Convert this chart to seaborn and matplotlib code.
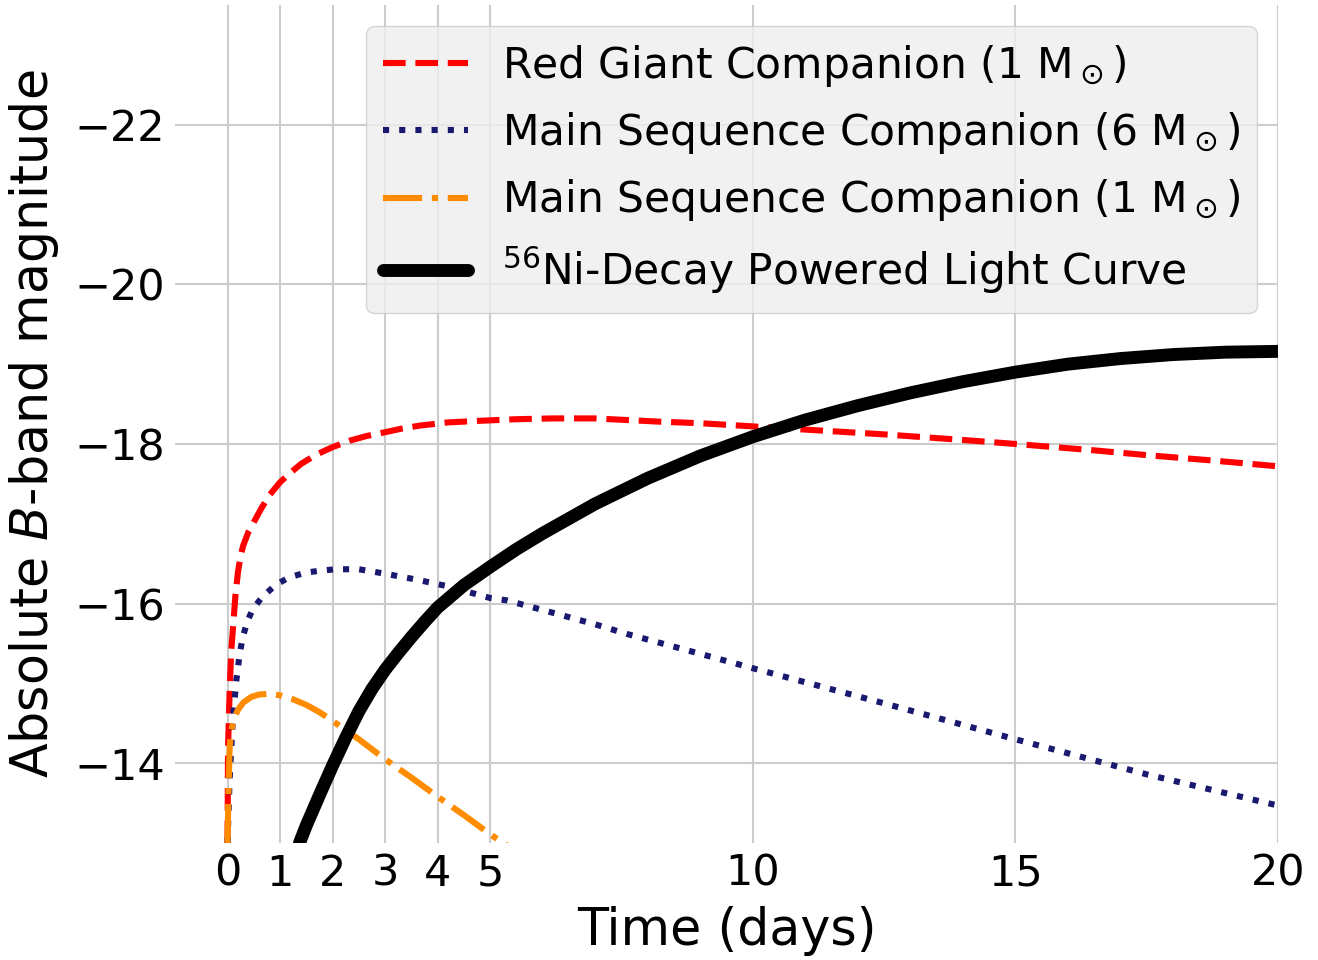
import matplotlib
matplotlib.use("Agg")
import matplotlib.pyplot as plt
import seaborn as sns
import pandas as pd

# ---- data ----
rg_t = [0.0, 0.01, 0.04, 0.07, 0.1, 0.15, 0.2, 0.25, 0.3, 0.4, 0.5, 0.65, 0.8, 1.0, 1.2, 1.4, 1.7,
        2.0, 2.32, 2.65, 2.95, 3.3, 3.66, 4.2, 4.8, 5.5, 6.2, 7.0, 8.2, 9.0, 10.0, 11.0,
        12.5, 14.0, 15.0, 16.5, 17.5, 18.8, 20.0]
rg_m = [-13.0, -14.2, -14.9, -15.4, -15.66, -16.1, -16.4, -16.6, -16.73, -16.9, -17.02, -17.2,
        -17.36, -17.52, -17.64, -17.75, -17.87, -17.96, -18.04, -18.1, -18.14, -18.19, -18.23,
        -18.27, -18.29, -18.31, -18.32, -18.32, -18.28, -18.26, -18.22, -18.18, -18.12, -18.05,
        -18.0, -17.92, -17.86, -17.79, -17.72]

ms6_t = [0.0, 0.04, 0.1, 0.17, 0.23, 0.29, 0.38, 0.48, 0.67, 0.93, 1.18, 1.5, 1.75, 2.05,
         2.5, 2.95, 3.6, 4.17, 5.0, 5.32, 5.94, 7.0, 7.6, 8.5, 10.0, 12.5, 15.0, 17.5, 19.8, 20.0]
ms6_m = [-13.0, -13.8, -14.54, -15.05, -15.36, -15.58, -15.78, -15.93, -16.09, -16.24, -16.33,
         -16.39, -16.41, -16.43, -16.43, -16.38, -16.3, -16.22, -16.07, -16.04, -15.93, -15.74,
         -15.62, -15.46, -15.19, -14.75, -14.3, -13.86, -13.5, -13.47]

ms1_t = [0.0, 0.02, 0.04, 0.07, 0.1, 0.15, 0.2, 0.3, 0.45, 0.6, 0.8, 1.0, 1.25, 1.5, 1.75,
         2.0, 2.5, 3.0, 3.5, 4.0, 4.5, 5.0, 5.43]
ms1_m = [-13.0, -13.7, -14.2, -14.4, -14.5, -14.6, -14.67, -14.76, -14.83, -14.86, -14.87,
         -14.85, -14.8, -14.73, -14.64, -14.53, -14.3, -14.05, -13.82, -13.58, -13.35, -13.11,
         -12.92]

ni_t = [1.37, 1.5, 1.75, 2.0, 2.25, 2.5, 2.75, 3.0, 3.25, 3.5, 3.75, 4.0, 4.5, 5.0, 5.5, 6.0,
        7.0, 8.0, 9.0, 10.0, 11.0, 12.0, 13.0, 14.0, 15.0, 16.0, 17.0, 18.0, 19.0, 20.0]
ni_m = [-13.0, -13.22, -13.6, -13.97, -14.32, -14.65, -14.93, -15.17, -15.38, -15.58, -15.77,
        -15.95, -16.23, -16.46, -16.68, -16.88, -17.25, -17.57, -17.85, -18.09, -18.3, -18.48,
        -18.64, -18.78, -18.9, -19.0, -19.07, -19.12, -19.15, -19.16]

labels = ["Red Giant Companion (1 M$_\\odot$)",
          "Main Sequence Companion (6 M$_\\odot$)",
          "Main Sequence Companion (1 M$_\\odot$)",
          "$^{56}$Ni-Decay Powered Light Curve"]
xticks = [0, 1, 2, 3, 4, 5, 10, 15, 20]
yticks = [-22, -20, -18, -16, -14]

# ---- style ----
sns.set_style("whitegrid", {"grid.color": "#cccccc", "text.color": "black",
                            "axes.labelcolor": "black", "xtick.color": "black",
                            "ytick.color": "black"})
plt.rcParams['font.family'] = ['DejaVu Sans']
plt.rcParams['mathtext.fontset'] = 'dejavusans'
plt.rcParams['grid.linewidth'] = 1.5

fig = plt.figure(figsize=(13.18, 9.6), dpi=100)
ax = fig.add_axes([175 / 1318, 1 - 843 / 960, (1278 - 175) / 1318, (843 - 5) / 960])

series = [
    (rg_t, rg_m, "#ff0000", "--", 4.4),
    (ms6_t, ms6_m, "#191970", ":", 4.4),
    (ms1_t, ms1_m, "#ff8c00", "-.", 4.4),
    (ni_t, ni_m, "#000000", "-", 9.3),
]
for (t, m, c, ls, lw), lab in zip(series, labels):
    df = pd.DataFrame({"t": t, "m": m})
    sns.lineplot(data=df, x="t", y="m", ax=ax, color=c, linestyle=ls, linewidth=lw,
                 label=lab, estimator=None)

ax.set_xlim(-1, 20)
ax.set_ylim(-13, -23.5)
ax.set_xticks(xticks)
ax.set_yticks(yticks)
ax.tick_params(axis='both', length=0, pad=7, labelsize=31, labelcolor="black")
ax.set_xlabel("Time (days)", fontsize=36.5, color="black", labelpad=8)
ax.set_ylabel("Absolute $B$-band magnitude", fontsize=36.5, color="black", labelpad=10)
sns.despine(ax=ax, left=True, bottom=True)

leg = ax.legend(loc="upper right", fontsize=30.5, facecolor="#eeeeee", framealpha=0.8,
                edgecolor="#cccccc", fancybox=True)
for txt in leg.get_texts():
    txt.set_color("black")

fig.savefig("out.png", dpi=100)
